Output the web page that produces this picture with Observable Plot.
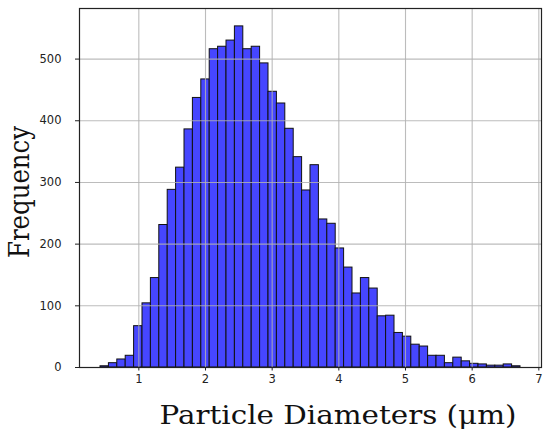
<!DOCTYPE html>
<html>
<head>
<meta charset="utf-8">
<script src="https://cdn.jsdelivr.net/npm/d3@7"></script>
<script src="https://cdn.jsdelivr.net/npm/@observablehq/plot@0.6"></script>
<style>
  html, body { margin: 0; padding: 0; background: #fff; }
  svg { display: block; }
</style>
</head>
<body>
<div id="chart"></div>
<script>
// Histogram bins: first edge and width (µm), counts per bin
const binStart = 0.425;
const binWidth = 0.126;
const counts = [2, 7, 13, 19, 67, 104, 145, 231, 288, 324,
                386, 437, 467, 516, 520, 530, 553, 516, 520, 493,
                447, 428, 387, 341, 287, 328, 240, 233, 193, 162,
                120, 145, 128, 83, 84, 56, 50, 37, 34, 19,
                19, 7, 16, 10, 6, 5, 3, 3, 5, 2];
const xTicks = [1, 2, 3, 4, 5, 6, 7];
const yTicks = [0, 100, 200, 300, 400, 500];
const xLabel = "Particle Diameters (μm)";
const yLabel = "Frequency";

const bins = counts.map((c, i) => ({
  x1: binStart + i * binWidth,
  x2: binStart + (i + 1) * binWidth,
  count: c
}));

const chart = Plot.plot({
  width: 550,
  height: 438,
  marginLeft: 79,
  marginRight: 9,
  marginTop: 8,
  marginBottom: 71,
  style: { fontFamily: "DejaVu Sans", fontSize: "11.5px", color: "#222", background: "#fff", overflow: "visible" },
  x: { domain: [0.11, 7.04], ticks: xTicks, tickFormat: d3.format("d"), tickSize: 3.5, tickPadding: 4, label: null },
  y: { domain: [0, 582], ticks: yTicks, tickFormat: d3.format("d"), tickSize: 4, tickPadding: 14, label: null },
  marks: [
    Plot.rect(bins, { x1: "x1", x2: "x2", y1: 0, y2: "count", fill: "#4646ff", stroke: "#111", strokeWidth: 1 }),
    Plot.ruleX(xTicks, { stroke: "#b0b0b0", strokeOpacity: 0.85, strokeWidth: 1.1 }),
    Plot.ruleY(yTicks.filter(d => d > 0), { stroke: "#b0b0b0", strokeOpacity: 0.85, strokeWidth: 1.1 }),
    Plot.frame({ stroke: "#222", strokeWidth: 1.2 }),
    Plot.text([xLabel], { frameAnchor: "bottom-left", textAnchor: "start", lineAnchor: "bottom", dx: 80, dy: 56.5, fontFamily: "DejaVu Serif", fontSize: 26, fill: "#111" }),
    Plot.text([yLabel], { frameAnchor: "left", textAnchor: "middle", lineAnchor: "bottom", rotate: -90, dx: -51, dy: 4, fontFamily: "DejaVu Serif", fontSize: 27, fill: "#111" })
  ]
});

document.getElementById("chart").appendChild(chart);

// fit the serif labels to the lengths seen in the reference
d3.select(chart).selectAll("text").each(function () {
  const t = this.textContent;
  if (t === xLabel) {
    d3.select(this).attr("textLength", 357).attr("lengthAdjust", "spacingAndGlyphs");
  } else if (t === yLabel) {
    d3.select(this).attr("textLength", 132).attr("lengthAdjust", "spacingAndGlyphs");
  }
});
</script>
</body>
</html>
